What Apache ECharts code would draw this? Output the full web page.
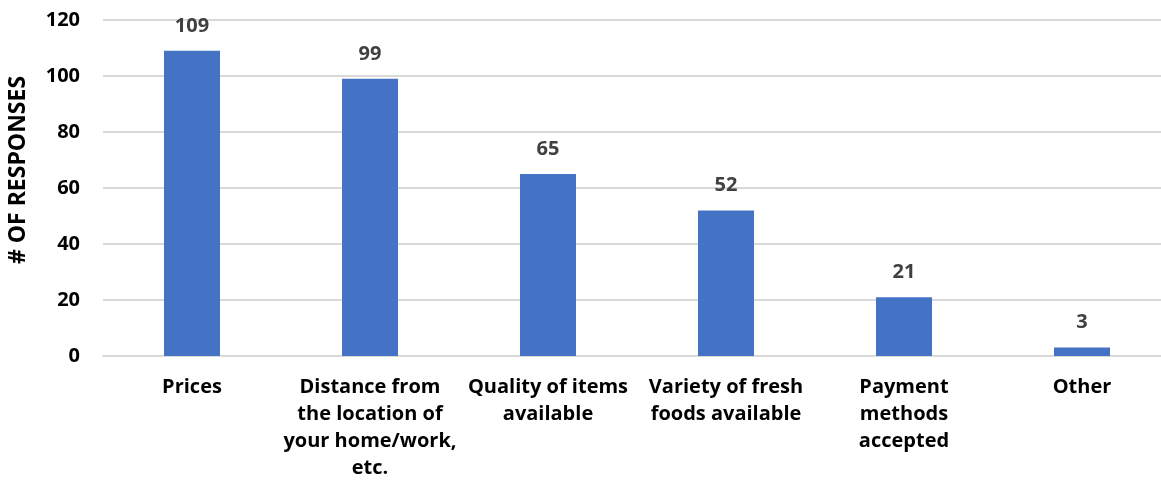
<!DOCTYPE html>
<html><head><meta charset="utf-8">
<script src="https://cdn.jsdelivr.net/npm/echarts@6/dist/echarts.min.js"></script>
<style>html,body{margin:0;padding:0;background:#fff}#c{width:1161px;height:487px}</style>
</head><body><div id="c"></div>
<script>
const categories = ["Prices", "Distance from\nthe location of\nyour home/work,\netc.", "Quality of items\navailable", "Variety of fresh\nfoods available", "Payment\nmethods\naccepted", "Other"];
const values = [109, 99, 65, 52, 21, 3];
const yTicks = {min: 0, max: 120, interval: 20};
const yName = "# OF RESPONSES";
const font = "'Open Sans', sans-serif";
const chart = echarts.init(document.getElementById('c'));
chart.setOption({
  animation: false,
  grid: {left: 103, top: 20, width: 1068, height: 336, outerBoundsMode: 'none', containLabel: false},
  xAxis: {
    type: 'category', data: categories,
    axisLine: {lineStyle: {color: '#d9d9d9', width: 2}},
    axisTick: {show: false},
    axisLabel: {color: '#000', fontFamily: font, fontWeight: 'bold', fontSize: 20, lineHeight: 27, margin: 18, interval: 0}
  },
  yAxis: {
    type: 'value', min: yTicks.min, max: yTicks.max, interval: yTicks.interval,
    name: yName, nameLocation: 'middle', nameGap: 73, nameRotate: 90,
    nameTextStyle: {color: '#000', fontFamily: font, fontWeight: 'bold', fontSize: 23, padding: [0, 0, 0, 36]},
    axisLine: {show: false}, axisTick: {show: false},
    axisLabel: {color: '#000', fontFamily: font, fontWeight: 'bold', fontSize: 20, margin: 23},
    splitLine: {lineStyle: {color: '#d9d9d9', width: 2}}
  },
  series: [{
    type: 'bar', data: values, barWidth: 56,
    itemStyle: {color: '#4472c4'},
    label: {show: true, position: 'top', distance: 15, color: '#404040', fontFamily: font, fontWeight: 'bold', fontSize: 20}
  }]
});
</script></body></html>
